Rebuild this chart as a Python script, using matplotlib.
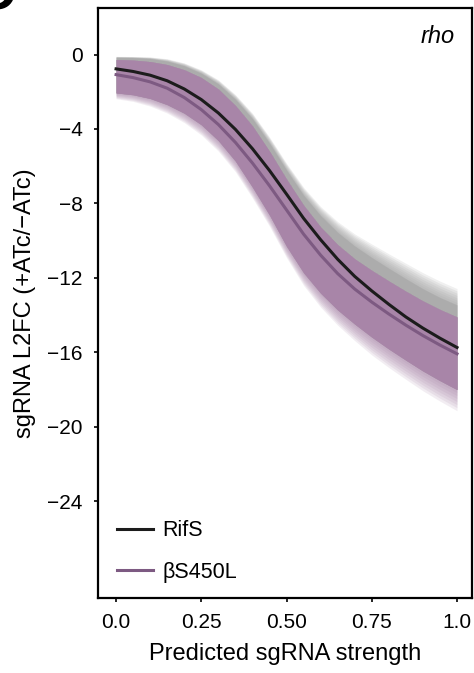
import matplotlib
matplotlib.use('Agg')
import matplotlib.pyplot as plt
import numpy as np

plt.rcParams['font.family'] = ['Liberation Sans', 'DejaVu Sans']

# predicted sgRNA strength grid
strength = [0.0, 0.05, 0.10, 0.15, 0.20, 0.25, 0.30, 0.35, 0.40, 0.45, 0.50,
            0.55, 0.60, 0.65, 0.70, 0.75, 0.80, 0.85, 0.90, 0.95, 1.0]

# fitted curves
rifs_fit = [-0.77, -0.91, -1.11, -1.41, -1.85, -2.42, -3.14, -4.02, -5.06, -6.23, -7.50,
            -8.80, -9.95, -11.00, -11.92, -12.70, -13.42, -14.10, -14.70, -15.24, -15.74]
mut_fit = [-1.08, -1.24, -1.47, -1.81, -2.31, -2.96, -3.76, -4.72, -5.83, -7.05, -8.35,
           -9.65, -10.78, -11.77, -12.60, -13.30, -13.94, -14.54, -15.10, -15.61, -16.08]

# spread of posterior draws (RifS: upper edge only, rest is under the purple)
rifs_top_outer = [-0.09, -0.10, -0.12, -0.21, -0.43, -0.80, -1.33, -2.12, -3.12, -4.39, -5.80,
                  -7.08, -8.10, -8.90, -9.55, -10.08, -10.60, -11.10, -11.60, -12.05, -12.45]
rifs_top_inner = [-0.15, -0.16, -0.21, -0.35, -0.60, -1.00, -1.57, -2.40, -3.44, -4.75, -6.20,
                  -7.55, -8.65, -9.55, -10.28, -10.90, -11.48, -12.04, -12.58, -13.05, -13.45]
mut_top = [-0.27, -0.30, -0.38, -0.54, -0.82, -1.24, -1.86, -2.74, -3.84, -5.20, -6.70,
           -8.10, -9.27, -10.22, -10.98, -11.60, -12.17, -12.72, -13.24, -13.70, -14.10]
mut_bot_inner = [-2.06, -2.16, -2.36, -2.69, -3.15, -3.77, -4.62, -5.72, -7.12, -8.62, -10.30,
                 -11.72, -12.82, -13.72, -14.48, -15.18, -15.82, -16.42, -17.00, -17.52, -18.00]
mut_bot_outer = [-2.42, -2.57, -2.83, -3.21, -3.73, -4.40, -5.27, -6.38, -7.79, -9.31, -11.00,
                 -12.50, -13.68, -14.66, -15.50, -16.28, -16.96, -17.60, -18.22, -18.78, -19.30]

groups = ['RifS', 'βS450L']
line_colors = ['#1c1c1c', '#7d5a82']
y_ticks = [0, -4, -8, -12, -16, -20, -24]
x_ticks = [0.0, 0.25, 0.50, 0.75, 1.0]
x_tick_labels = ['0.0', '0.25', '0.50', '0.75', '1.0']

x = np.array(strength)

fig = plt.figure(figsize=(4.74, 6.73), dpi=100)
ax = fig.add_axes([98 / 474, 75 / 673, 374 / 474, 590 / 673])

# grey draws, soft upper edge
n = 8
for i in range(n):
    t = (i + 1) / n
    top = np.array(rifs_top_outer) * (1 - t) + np.array(rifs_top_inner) * t
    ax.fill_between(x, top, mut_bot_inner, color='#a3a3a3', alpha=0.16, lw=0)
ax.fill_between(x, rifs_top_inner, mut_bot_inner, color='#a3a3a3', alpha=0.5, lw=0)

# purple draws, soft lower edge
for i in range(n):
    t = (i + 1) / n
    bot = np.array(mut_bot_outer) * (1 - t) + np.array(mut_bot_inner) * t
    ax.fill_between(x, mut_top, bot, color='#a885a8', alpha=0.14, lw=0)
ax.fill_between(x, mut_top, mut_bot_inner, color='#a885a8', alpha=1.0, lw=0)

ax.plot(x, mut_fit, color=line_colors[1], lw=2.2, label=groups[1], zorder=4)
ax.plot(x, rifs_fit, color=line_colors[0], lw=2.2, label=groups[0], zorder=5)

ax.set_xlim(-0.053, 1.044)
ax.set_ylim(-29.2, 2.5)
ax.set_xticks(x_ticks)
ax.set_xticklabels(x_tick_labels)
ax.set_yticks(y_ticks)
ax.tick_params(axis='both', direction='out', length=3, width=1.2, labelsize=15, pad=8)
for s in ax.spines.values():
    s.set_linewidth(1.6)

ax.set_xlabel('Predicted sgRNA strength', fontsize=17, labelpad=8)
ax.set_ylabel('sgRNA L2FC (+ATc/\u2212ATc)', fontsize=17, labelpad=8)

ax.text(0.955, 0.951, 'rho', transform=ax.transAxes, ha='right', va='center',
        fontsize=17, style='italic')

handles, labels = ax.get_legend_handles_labels()
ax.legend(handles[::-1], labels[::-1], loc='lower left', frameon=False, fontsize=15.5,
          handlelength=1.7, labelspacing=0.95, handletextpad=0.4,
          borderaxespad=0.3, bbox_to_anchor=(0.01, 0.0))

# panel letter, mostly outside the canvas as in the source figure
fig.text(-5 / 474, 1 + 5 / 673, 'C', fontsize=40, fontweight='bold', ha='center', va='center')

plt.savefig('out.png', dpi=100)
